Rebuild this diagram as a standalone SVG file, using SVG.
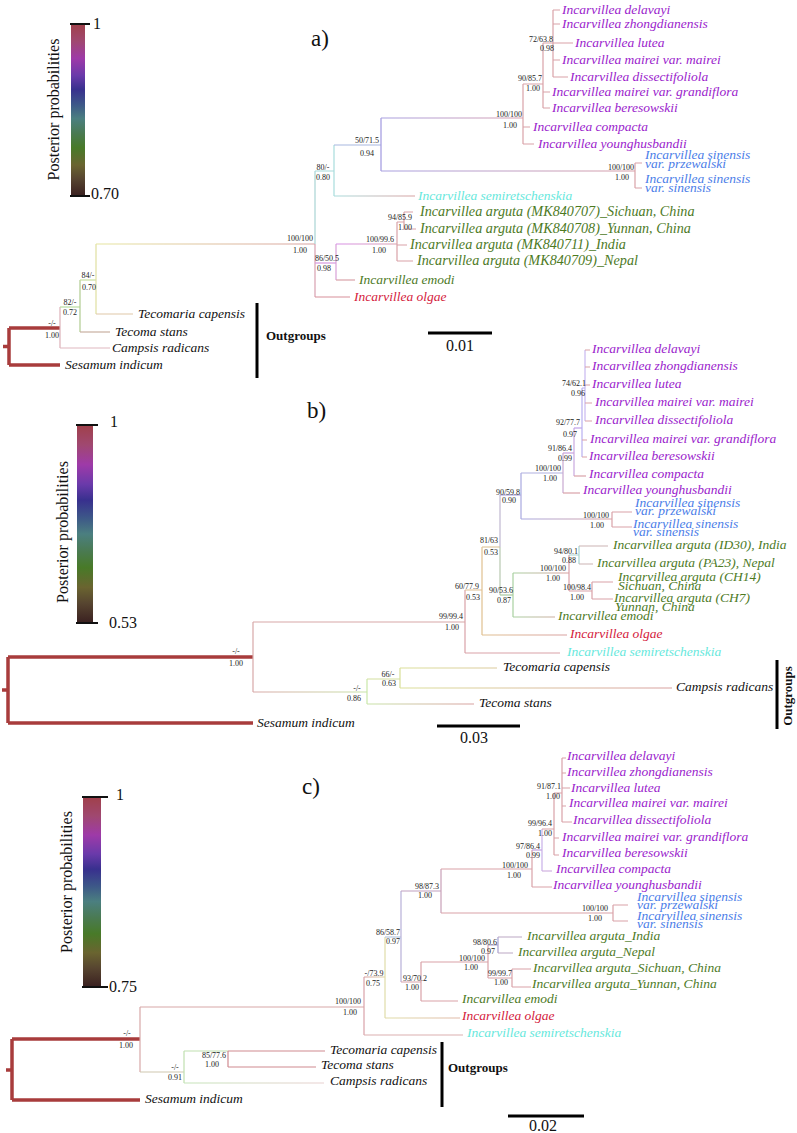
<svg xmlns="http://www.w3.org/2000/svg" width="797" height="1133" viewBox="0 0 797 1133">
<style>
.b{fill:none;stroke-width:1.2;stroke:#d9a2a8}
.th{fill:none;stroke:#a83c3c;stroke-width:3.5}
.t{font-family:'Liberation Serif','Times New Roman',serif;font-style:italic;font-size:13.5px}
.t14{font-size:14.2px}
.s{font-family:'Liberation Serif','Times New Roman',serif;font-size:8px;fill:#222;text-anchor:middle}
.pu{fill:#9a22cc}.bl{fill:#4a7de8}.cy{fill:#66e8dc}.gr{fill:#4d7a1f}.rd{fill:#d4203c}.bk{fill:#111}
.cb-lab{font-family:'Liberation Serif','Times New Roman',serif;font-size:16px;fill:#111}
.pl{font-family:'Liberation Serif','Times New Roman',serif;font-size:23px;fill:#111}
.og{font-family:'Liberation Serif','Times New Roman',serif;font-size:13px;font-weight:bold;fill:#111}
.bar{stroke:#000;stroke-width:3;fill:none}
.tick{stroke:#111;stroke-width:2;fill:none}
</style>
<defs>
<linearGradient id="pp" x1="0" y1="0" x2="0" y2="1">
<stop offset="0" stop-color="#a0404a"/>
<stop offset="0.1" stop-color="#a04870"/>
<stop offset="0.2" stop-color="#9e3aa8"/>
<stop offset="0.3" stop-color="#6a3aaa"/>
<stop offset="0.38" stop-color="#38308e"/>
<stop offset="0.47" stop-color="#3d5888"/>
<stop offset="0.55" stop-color="#4b7f80"/>
<stop offset="0.64" stop-color="#4a7a50"/>
<stop offset="0.72" stop-color="#487a28"/>
<stop offset="0.82" stop-color="#6a6430"/>
<stop offset="0.9" stop-color="#574530"/>
<stop offset="1" stop-color="#3a2020"/>
</linearGradient>
<linearGradient id="ga1" gradientUnits="userSpaceOnUse" x1="96" y1="0" x2="315" y2="0"><stop offset="0" stop-color="#e6e6a0"/><stop offset="1" stop-color="#d8a0a0"/></linearGradient>
<linearGradient id="ga2" gradientUnits="userSpaceOnUse" x1="381" y1="0" x2="635" y2="0"><stop offset="0" stop-color="#a8a0e0"/><stop offset="1" stop-color="#d8a0a8"/></linearGradient>
<linearGradient id="ga3" gradientUnits="userSpaceOnUse" x1="336" y1="0" x2="397" y2="0"><stop offset="0" stop-color="#d890e8"/><stop offset="1" stop-color="#d8a0b0"/></linearGradient>
<linearGradient id="ga4" gradientUnits="userSpaceOnUse" x1="334" y1="0" x2="415" y2="0"><stop offset="0" stop-color="#a8dcdc"/><stop offset="1" stop-color="#d8a0a0"/></linearGradient>
<linearGradient id="ga5" gradientUnits="userSpaceOnUse" x1="381" y1="0" x2="523" y2="0"><stop offset="0" stop-color="#a8a0e0"/><stop offset="1" stop-color="#d8a0b0"/></linearGradient>
<linearGradient id="gb1" gradientUnits="userSpaceOnUse" x1="253" y1="0" x2="367" y2="0"><stop offset="0" stop-color="#d8a8a8"/><stop offset="1" stop-color="#c8e4a8"/></linearGradient>
<linearGradient id="gb2" gradientUnits="userSpaceOnUse" x1="367" y1="0" x2="474" y2="0"><stop offset="0" stop-color="#c8e4a8"/><stop offset="1" stop-color="#d8a0a0"/></linearGradient>
<linearGradient id="gb3" gradientUnits="userSpaceOnUse" x1="400" y1="0" x2="672" y2="0"><stop offset="0" stop-color="#dce09a"/><stop offset="1" stop-color="#d8a0a0"/></linearGradient>
<linearGradient id="gb4" gradientUnits="userSpaceOnUse" x1="482" y1="0" x2="567" y2="0"><stop offset="0" stop-color="#e0c090"/><stop offset="1" stop-color="#d8a0a0"/></linearGradient>
<linearGradient id="gb5" gradientUnits="userSpaceOnUse" x1="521" y1="0" x2="612" y2="0"><stop offset="0" stop-color="#a8a8e0"/><stop offset="1" stop-color="#d8a0a0"/></linearGradient>
<linearGradient id="gb6" gradientUnits="userSpaceOnUse" x1="513" y1="0" x2="569" y2="0"><stop offset="0" stop-color="#a8d0a0"/><stop offset="1" stop-color="#d8a0a0"/></linearGradient>
<linearGradient id="gc1" gradientUnits="userSpaceOnUse" x1="184" y1="0" x2="324" y2="0"><stop offset="0" stop-color="#c4e4b8"/><stop offset="1" stop-color="#e8d0d0"/></linearGradient>
<linearGradient id="gc2" gradientUnits="userSpaceOnUse" x1="364" y1="0" x2="460" y2="0"><stop offset="0" stop-color="#d8a0a0"/><stop offset="0.25" stop-color="#e0dca8"/><stop offset="1" stop-color="#e0b8a8"/></linearGradient>
</defs>

<!-- ================= PANEL A ================= -->
<g id="legend-a">
<rect x="71" y="24" width="14" height="172" fill="url(#pp)"/>
<path class="tick" d="M70,24 H90 M70,196 H90"/>
<text class="cb-lab" x="93" y="29">1</text>
<text class="cb-lab" x="91" y="199">0.70</text>
<text class="cb-lab" transform="translate(59,109.5) rotate(-90)" text-anchor="middle">Posterior probabilities</text>
</g>
<text id="label-a" class="pl" x="311" y="46">a)</text>

<g id="connectors-a">
<path class="th" d="M3,346.5 H9 M9,328 V365 M9,328 H60 M9,365 H60"/>
<path class="b" style="stroke:#dcb0b8" d="M60,307 V348"/>
<path class="b" style="stroke:#b8dca0" d="M60,307 H80"/>
<path class="b" style="stroke:#e0b8c0" d="M60,348 H110"/>
<path class="b" style="stroke:#b0cc90" d="M80,280 V332"/>
<path class="b" style="stroke:#c8b0a0" d="M80,332 H110"/>
<path class="b" style="stroke:#c8e0a0" d="M80,280 H96"/>
<path class="b" style="stroke:#e0e0a0" d="M96,244 V314"/>
<path class="b" style="stroke:#e0c8a8" d="M96,314 H133"/>
<path class="b" style="stroke:url(#ga1)" d="M96,244 H315"/>
<path class="b" style="stroke:#a8d4d4" d="M315,171 V244"/>
<path class="b" style="stroke:#d8a0b0" d="M315,244 V297"/>
<path class="b" style="stroke:#a8dcdc" d="M315,171 H334 M334,145 V196"/>
<path class="b" style="stroke:#d898e0" d="M315,263 H336"/>
<path class="b" style="stroke:#d8909a" d="M315,297 H350"/>
<path class="b" style="stroke:url(#ga4)" d="M334,196 H415"/>
<path class="b" style="stroke:#a8b8e0" d="M334,145 H381"/>
<path class="b" style="stroke:#a098e0" d="M381,118 V171"/>
<path class="b" style="stroke:url(#ga5)" d="M381,118 H523"/>
<path class="b" style="stroke:url(#ga2)" d="M381,171 H635"/>
<path class="b" d="M635,163 V188 M635,163 H642 M635,188 H642"/>
<path class="b" d="M523,84 V144 M523,84 H543 M523,127 H530 M523,144 H534"/>
<path class="b" d="M543,43 V108 M543,43 H553 M543,92 H550 M543,108 H550"/>
<path class="b" d="M553,10 V77 M553,10 H560 M553,24 H560 M553,43 H573 M553,60 H560 M553,77 H568"/>
<path class="b" style="stroke:#d8a0d8" d="M336,244 V280"/>
<path class="b" style="stroke:url(#ga3)" d="M336,244 H397"/>
<path class="b" d="M336,280 H355"/>
<path class="b" d="M397,222 V261 M397,222 H404 M397,245 H407 M397,261 H413"/>
<path class="b" d="M404,212 V229 M404,212 H413 M404,229 H416"/>
</g>

<g id="support-a">
<text class="s" x="52" y="326">-/-</text><text class="s" x="52" y="338">1.00</text>
<text class="s" x="70" y="305">82/-</text><text class="s" x="70" y="315">0.72</text>
<text class="s" x="88" y="278">84/-</text><text class="s" x="89" y="290">0.70</text>
<text class="s" x="300" y="241">100/100</text><text class="s" x="300" y="253">1.00</text>
<text class="s" x="323" y="170">80/-</text><text class="s" x="323" y="180">0.80</text>
<text class="s" x="327" y="261">86/50.5</text><text class="s" x="324" y="271">0.98</text>
<text class="s" x="367" y="143">50/71.5</text><text class="s" x="367" y="156">0.94</text>
<text class="s" x="509" y="117">100/100</text><text class="s" x="510" y="128">1.00</text>
<text class="s" x="530" y="81">90/85.7</text><text class="s" x="533" y="91">1.00</text>
<text class="s" x="541" y="42">72/63.8</text><text class="s" x="547" y="51">0.98</text>
<text class="s" x="380" y="242">100/99.6</text><text class="s" x="379" y="253">1.00</text>
<text class="s" x="400" y="220">94/85.9</text><text class="s" x="405" y="230">1.00</text>
<text class="s" x="621" y="170">100/100</text><text class="s" x="622" y="180">1.00</text>
</g>

<g id="taxa-a">
<g id="a-delavayi"><text class="t pu" x="562" y="14">Incarvillea delavayi</text></g>
<g id="a-zhongdianensis"><text class="t pu" x="562" y="28">Incarvillea zhongdianensis</text></g>
<g id="a-lutea"><text class="t pu" x="575" y="47">Incarvillea lutea</text></g>
<g id="a-mairei"><text class="t pu" x="562" y="64">Incarvillea mairei var. mairei</text></g>
<g id="a-dissectifoliola"><text class="t pu" x="570" y="81">Incarvillea dissectifoliola</text></g>
<g id="a-grandiflora"><text class="t pu" x="552" y="96">Incarvillea mairei var. grandiflora</text></g>
<g id="a-beresowskii"><text class="t pu" x="552" y="112">Incarvillea beresowskii</text></g>
<g id="a-compacta"><text class="t pu" x="533" y="131">Incarvillea compacta</text></g>
<g id="a-younghusbandii"><text class="t pu" x="538" y="148">Incarvillea younghusbandii</text></g>
<g id="a-przewalski"><text class="t bl" x="645" y="159">Incarvillea sinensis</text><text class="t bl" x="645" y="168">var. przewalski</text></g>
<g id="a-sinensis"><text class="t bl" x="645" y="183">Incarvillea sinensis</text><text class="t bl" x="645" y="192">var. sinensis</text></g>
<g id="a-semiretschenskia"><text class="t cy" x="418" y="200">Incarvillea semiretschenskia</text></g>
<g id="a-mk707"><text class="t t14 gr" x="420" y="216">Incarvillea arguta (MK840707)_Sichuan, China</text></g>
<g id="a-mk708"><text class="t t14 gr" x="420" y="233">Incarvillea arguta (MK840708)_Yunnan, China</text></g>
<g id="a-mk711"><text class="t t14 gr" x="410" y="249">Incarvillea arguta (MK840711)_India</text></g>
<g id="a-mk709"><text class="t t14 gr" x="417" y="265">Incarvillea arguta (MK840709)_Nepal</text></g>
<g id="a-emodi"><text class="t gr" x="359" y="284">Incarvillea emodi</text></g>
<g id="a-olgae"><text class="t rd" x="354" y="301">Incarvillea olgae</text></g>
<g id="a-tecomaria"><text class="t bk" x="138" y="318">Tecomaria capensis</text></g>
<g id="a-tecoma"><text class="t bk" x="115" y="336">Tecoma stans</text></g>
<g id="a-campsis"><text class="t bk" x="112" y="352">Campsis radicans</text></g>
<g id="a-sesamum"><text class="t bk" x="65" y="369">Sesamum indicum</text></g>
</g>
<g id="outgroups-a">
<path class="bar" d="M257,303 V378"/>
<text class="og" x="266" y="340">Outgroups</text>
</g>
<g id="scale-a">
<path class="bar" d="M428,333 H492"/>
<text class="cb-lab" x="460" y="351" text-anchor="middle">0.01</text>
</g>

<!-- ================= PANEL B ================= -->
<g id="legend-b">
<rect x="77" y="425" width="16" height="198" fill="url(#pp)"/>
<path class="tick" d="M76,425 H98 M76,623 H98"/>
<text class="cb-lab" x="110" y="427">1</text>
<text class="cb-lab" x="109" y="628">0.53</text>
<text class="cb-lab" transform="translate(68,532) rotate(-90)" text-anchor="middle">Posterior probabilities</text>
</g>
<text id="label-b" class="pl" x="307" y="418">b)</text>

<g id="connectors-b">
<path class="th" d="M2,690 H8 M8,657 V723 M8,657 H253 M8,723 H253"/>
<path class="b" style="stroke:#d8a8a8" d="M253,622 V692 M253,622 H465"/>
<path class="b" style="stroke:url(#gb1)" d="M253,692 H367"/>
<path class="b" style="stroke:#c8e8a8" d="M367,679 V704"/>
<path class="b" style="stroke:#d4e0a0" d="M367,679 H400"/>
<path class="b" style="stroke:url(#gb2)" d="M367,704 H474"/>
<path class="b" style="stroke:#d8e098" d="M400,668 V688"/>
<path class="b" style="stroke:url(#gb3)" d="M400,668 H497 M400,688 H672"/>
<path class="b" d="M465,590 V653 M465,653 H560"/>
<path class="b" style="stroke:#e0c090" d="M465,590 H482 M482,547 V635"/>
<path class="b" style="stroke:url(#gb4)" d="M482,635 H567"/>
<path class="b" style="stroke:#e0c8a0" d="M482,547 H500"/>
<path class="b" style="stroke:#c0b8d0" d="M500,495 V547"/>
<path class="b" style="stroke:#b8c8b0" d="M500,547 V595"/>
<path class="b" style="stroke:#b0a8e0" d="M500,495 H521"/>
<path class="b" style="stroke:#a8a8e0" d="M521,473 V519"/>
<path class="b" style="stroke:url(#gb5)" d="M521,519 H612"/>
<path class="b" d="M612,512 V527 M612,512 H632 M612,527 H632"/>
<path class="b" style="stroke:#a8c8a0" d="M500,595 H513"/>
<path class="b" style="stroke:#a8d0a0" d="M513,573 V617"/>
<path class="b" style="stroke:url(#gb6)" d="M513,617 H555 M513,573 H569"/>
<path class="b" d="M569,555 V591"/>
<path class="b" style="stroke:#a8d4d0" d="M569,555 H579 M579,546 V564"/>
<path class="b" style="stroke:#ccb4b4" d="M579,546 H608 M579,564 H593"/>
<path class="b" d="M569,591 H592 M592,582 V599 M592,582 H613 M592,599 H613"/>
<path class="b" style="stroke:#b0b0e0" d="M521,473 H563"/>
<path class="b" style="stroke:#c8a8d0" d="M563,453 V493"/>
<path class="b" d="M563,493 H580"/>
<path class="b" style="stroke:#c8a0e0" d="M563,453 H574"/>
<path class="b" style="stroke:#c8a8e0" d="M574,428 V476"/>
<path class="b" d="M574,476 H586"/>
<path class="b" style="stroke:#c0a0e8" d="M574,428 H582"/>
<path class="b" style="stroke:#b8b0f0" d="M582,388 V457 M582,388 H585"/>
<path class="b" d="M582,440 H587 M582,457 H587"/>
<path class="b" style="stroke:#c8b8f0" d="M585,350 V421"/>
<path class="b" d="M585,350 H590 M585,367 H590 M585,385 H590 M585,403 H592 M585,421 H592"/>
</g>

<g id="support-b">
<text class="s" x="236" y="654">-/-</text><text class="s" x="236" y="666">1.00</text>
<text class="s" x="357" y="691">-/-</text><text class="s" x="354" y="701">0.86</text>
<text class="s" x="388" y="677">66/-</text><text class="s" x="389" y="686">0.63</text>
<text class="s" x="451" y="619">99/99.4</text><text class="s" x="452" y="630">1.00</text>
<text class="s" x="467" y="589">60/77.9</text><text class="s" x="473" y="600">0.53</text>
<text class="s" x="489" y="543">81/63</text><text class="s" x="491" y="555">0.53</text>
<text class="s" x="501" y="593">90/53.6</text><text class="s" x="504" y="603">0.87</text>
<text class="s" x="553" y="571">100/100</text><text class="s" x="553" y="581">1.00</text>
<text class="s" x="566" y="554">94/80.1</text><text class="s" x="569" y="563">0.88</text>
<text class="s" x="577" y="590">100/98.4</text><text class="s" x="577" y="600">1.00</text>
<text class="s" x="508" y="495">90/59.8</text><text class="s" x="509" y="503">0.90</text>
<text class="s" x="548" y="471">100/100</text><text class="s" x="550" y="481">1.00</text>
<text class="s" x="560" y="451">91/86.4</text><text class="s" x="565" y="461">0.99</text>
<text class="s" x="568" y="425">92/77.7</text><text class="s" x="570" y="437">0.97</text>
<text class="s" x="574" y="386">74/62.1</text><text class="s" x="578" y="396">0.96</text>
<text class="s" x="596" y="518">100/100</text><text class="s" x="597" y="528">1.00</text>
</g>

<g id="taxa-b">
<g id="b-delavayi"><text class="t pu" x="592" y="353">Incarvillea delavayi</text></g>
<g id="b-zhongdianensis"><text class="t pu" x="592" y="370">Incarvillea zhongdianensis</text></g>
<g id="b-lutea"><text class="t pu" x="592" y="388">Incarvillea lutea</text></g>
<g id="b-mairei"><text class="t pu" x="595" y="406">Incarvillea mairei var. mairei</text></g>
<g id="b-dissectifoliola"><text class="t pu" x="595" y="424">Incarvillea dissectifoliola</text></g>
<g id="b-grandiflora"><text class="t pu" x="590" y="443">Incarvillea mairei var. grandiflora</text></g>
<g id="b-beresowskii"><text class="t pu" x="589" y="460">Incarvillea beresowskii</text></g>
<g id="b-compacta"><text class="t pu" x="589" y="478">Incarvillea compacta</text></g>
<g id="b-younghusbandii"><text class="t pu" x="583" y="494">Incarvillea younghusbandii</text></g>
<g id="b-przewalski"><text class="t bl" x="635" y="507">Incarvillea sinensis</text><text class="t bl" x="635" y="515">var. przewalski</text></g>
<g id="b-sinensis"><text class="t bl" x="633" y="528">Incarvillea sinensis</text><text class="t bl" x="633" y="536">var. sinensis</text></g>
<g id="b-id30"><text class="t gr" x="613" y="549">Incarvillea arguta (ID30), India</text></g>
<g id="b-pa23"><text class="t gr" x="597" y="567">Incarvillea arguta (PA23), Nepal</text></g>
<g id="b-ch14"><text class="t gr" x="618" y="581">Incarvillea arguta (CH14)</text><text class="t gr" x="618" y="590">Sichuan, China</text></g>
<g id="b-ch7"><text class="t gr" x="614" y="602">Incarvillea arguta (CH7)</text><text class="t gr" x="615" y="611">Yunnan, China</text></g>
<g id="b-emodi"><text class="t gr" x="558" y="620">Incarvillea emodi</text></g>
<g id="b-olgae"><text class="t rd" x="570" y="638">Incarvillea olgae</text></g>
<g id="b-semiretschenskia"><text class="t cy" x="567" y="656">Incarvillea semiretschenskia</text></g>
<g id="b-tecomaria"><text class="t bk" x="503" y="671">Tecomaria capensis</text></g>
<g id="b-campsis"><text class="t bk" x="676" y="691">Campsis radicans</text></g>
<g id="b-tecoma"><text class="t bk" x="479" y="707">Tecoma stans</text></g>
<g id="b-sesamum"><text class="t bk" x="257" y="727">Sesamum indicum</text></g>
</g>
<g id="outgroups-b">
<path class="bar" d="M777,660 V729"/>
<text class="og" transform="translate(792,696) rotate(-90)" text-anchor="middle">Outgroups</text>
</g>
<g id="scale-b">
<path class="bar" d="M437,726 H520"/>
<text class="cb-lab" x="474" y="743" text-anchor="middle">0.03</text>
</g>

<!-- ================= PANEL C ================= -->
<g id="legend-c">
<rect x="83" y="797" width="18" height="190" fill="url(#pp)"/>
<path class="tick" d="M82,797 H108 M82,987 H108"/>
<text class="cb-lab" x="116" y="800">1</text>
<text class="cb-lab" x="109" y="992">0.75</text>
<text class="cb-lab" transform="translate(72,882) rotate(-90)" text-anchor="middle">Posterior probabilities</text>
</g>
<text id="label-c" class="pl" x="302" y="794">c)</text>

<g id="connectors-c">
<path class="th" d="M6,1070 H12 M12,1039 V1100 M12,1039 H140 M12,1100 H140"/>
<path class="b" style="stroke:#d8a8a8" d="M140,1007 V1072 M140,1007 H364"/>
<path class="b" style="stroke:#d0c8b0" d="M140,1072 H184"/>
<path class="b" style="stroke:#c0e0b0" d="M184,1051 V1083 M184,1051 H228"/>
<path class="b" style="stroke:url(#gc1)" d="M184,1083 H324"/>
<path class="b" style="stroke:#d08a90" d="M228,1051 V1067 M228,1051 H325 M228,1067 H316"/>
<path class="b" d="M364,977 V1035"/>
<path class="b" style="stroke:#dcb0b0" d="M364,1035 H463"/>
<path class="b" style="stroke:url(#gc2)" d="M364,977 H385 M385,1018 H460"/>
<path class="b" style="stroke:#e0dca8" d="M385,937 V1018"/>
<path class="b" style="stroke:#b8c8e0" d="M385,937 H401"/>
<path class="b" style="stroke:#b8b0d8" d="M401,891 V982"/>
<path class="b" style="stroke:#c0a0c0" d="M401,891 H441"/>
<path class="b" style="stroke:#c8a0b8" d="M441,869 V913"/>
<path class="b" d="M441,869 H532 M441,913 H613"/>
<path class="b" d="M613,905 V921 M613,905 H628 M613,921 H628"/>
<path class="b" d="M532,850 V887 M532,887 H552"/>
<path class="b" style="stroke:#c0a0e0" d="M532,850 H542"/>
<path class="b" style="stroke:#c8b0e8" d="M542,829 V871"/>
<path class="b" style="stroke:#d0b0e0" d="M542,871 H552"/>
<path class="b" d="M542,829 H554 M554,793 V855 M554,838 H559 M554,855 H559 M554,793 H562"/>
<path class="b" d="M562,758 V822 M562,758 H566 M562,773 H566 M562,788 H570 M562,806 H566 M562,822 H572"/>
<path class="b" d="M401,982 H421 M421,962 V1001 M421,1001 H458 M421,962 H488 M488,945 V978"/>
<path class="b" style="stroke:#a8a0d0" d="M488,945 H498 M498,937 V953"/>
<path class="b" style="stroke:#bca8c4" d="M498,937 H522 M498,953 H513"/>
<path class="b" d="M488,978 H512 M512,969 V987 M512,969 H531 M512,987 H531"/>
</g>

<g id="support-c">
<text class="s" x="127" y="1036">-/-</text><text class="s" x="126" y="1048">1.00</text>
<text class="s" x="175" y="1070">-/-</text><text class="s" x="175" y="1080">0.91</text>
<text class="s" x="214" y="1058">85/77.6</text><text class="s" x="212" y="1067">1.00</text>
<text class="s" x="348" y="1004">100/100</text><text class="s" x="350" y="1015">1.00</text>
<text class="s" x="374" y="976">-/73.9</text><text class="s" x="373" y="986">0.75</text>
<text class="s" x="388" y="935">86/58.7</text><text class="s" x="393" y="944">0.97</text>
<text class="s" x="427" y="889">98/87.3</text><text class="s" x="425" y="898">1.00</text>
<text class="s" x="415" y="981">93/70.2</text><text class="s" x="412" y="990">1.00</text>
<text class="s" x="472" y="961">100/100</text><text class="s" x="471" y="970">1.00</text>
<text class="s" x="485" y="945">98/80.6</text><text class="s" x="488" y="954">0.97</text>
<text class="s" x="500" y="976">99/99.7</text><text class="s" x="501" y="985">1.00</text>
<text class="s" x="595" y="911">100/100</text><text class="s" x="595" y="921">1.00</text>
<text class="s" x="515" y="868">100/100</text><text class="s" x="514" y="878">1.00</text>
<text class="s" x="528" y="849">97/86.4</text><text class="s" x="533" y="858">0.99</text>
<text class="s" x="540" y="826">99/96.4</text><text class="s" x="545" y="836">1.00</text>
<text class="s" x="549" y="789">91/87.1</text><text class="s" x="553" y="799">1.00</text>
</g>

<g id="taxa-c">
<g id="c-delavayi"><text class="t pu" x="567" y="760">Incarvillea delavayi</text></g>
<g id="c-zhongdianensis"><text class="t pu" x="567" y="776">Incarvillea zhongdianensis</text></g>
<g id="c-lutea"><text class="t pu" x="571" y="792">Incarvillea lutea</text></g>
<g id="c-mairei"><text class="t pu" x="569" y="807">Incarvillea mairei var. mairei</text></g>
<g id="c-dissectifoliola"><text class="t pu" x="573" y="824">Incarvillea dissectifoliola</text></g>
<g id="c-grandiflora"><text class="t pu" x="562" y="841">Incarvillea mairei var. grandiflora</text></g>
<g id="c-beresowskii"><text class="t pu" x="562" y="857">Incarvillea beresowskii</text></g>
<g id="c-compacta"><text class="t pu" x="556" y="873">Incarvillea compacta</text></g>
<g id="c-younghusbandii"><text class="t pu" x="553" y="889">Incarvillea younghusbandii</text></g>
<g id="c-przewalski"><text class="t bl" x="637" y="901">Incarvillea sinensis</text><text class="t bl" x="637" y="909">var. przewalski</text></g>
<g id="c-sinensis"><text class="t bl" x="637" y="920">Incarvillea sinensis</text><text class="t bl" x="637" y="928">var. sinensis</text></g>
<g id="c-india"><text class="t gr" x="527" y="940">Incarvillea arguta_India</text></g>
<g id="c-nepal"><text class="t gr" x="518" y="956">Incarvillea arguta_Nepal</text></g>
<g id="c-sichuan"><text class="t gr" x="533" y="972">Incarvillea arguta_Sichuan, China</text></g>
<g id="c-yunnan"><text class="t gr" x="532" y="988">Incarvillea arguta_Yunnan, China</text></g>
<g id="c-emodi"><text class="t gr" x="462" y="1003">Incarvillea emodi</text></g>
<g id="c-olgae"><text class="t rd" x="462" y="1020">Incarvillea olgae</text></g>
<g id="c-semiretschenskia"><text class="t cy" x="467" y="1037">Incarvillea semiretschenskia</text></g>
<g id="c-tecomaria"><text class="t bk" x="330" y="1054">Tecomaria capensis</text></g>
<g id="c-tecoma"><text class="t bk" x="321" y="1069">Tecoma stans</text></g>
<g id="c-campsis"><text class="t bk" x="330" y="1085">Campsis radicans</text></g>
<g id="c-sesamum"><text class="t bk" x="145" y="1103">Sesamum indicum</text></g>
</g>
<g id="outgroups-c">
<path class="bar" d="M442,1042 V1107"/>
<text class="og" x="448" y="1072">Outgroups</text>
</g>
<g id="scale-c">
<path class="bar" d="M508,1116 H584"/>
<text class="cb-lab" x="543" y="1131" text-anchor="middle">0.02</text>
</g>
</svg>
